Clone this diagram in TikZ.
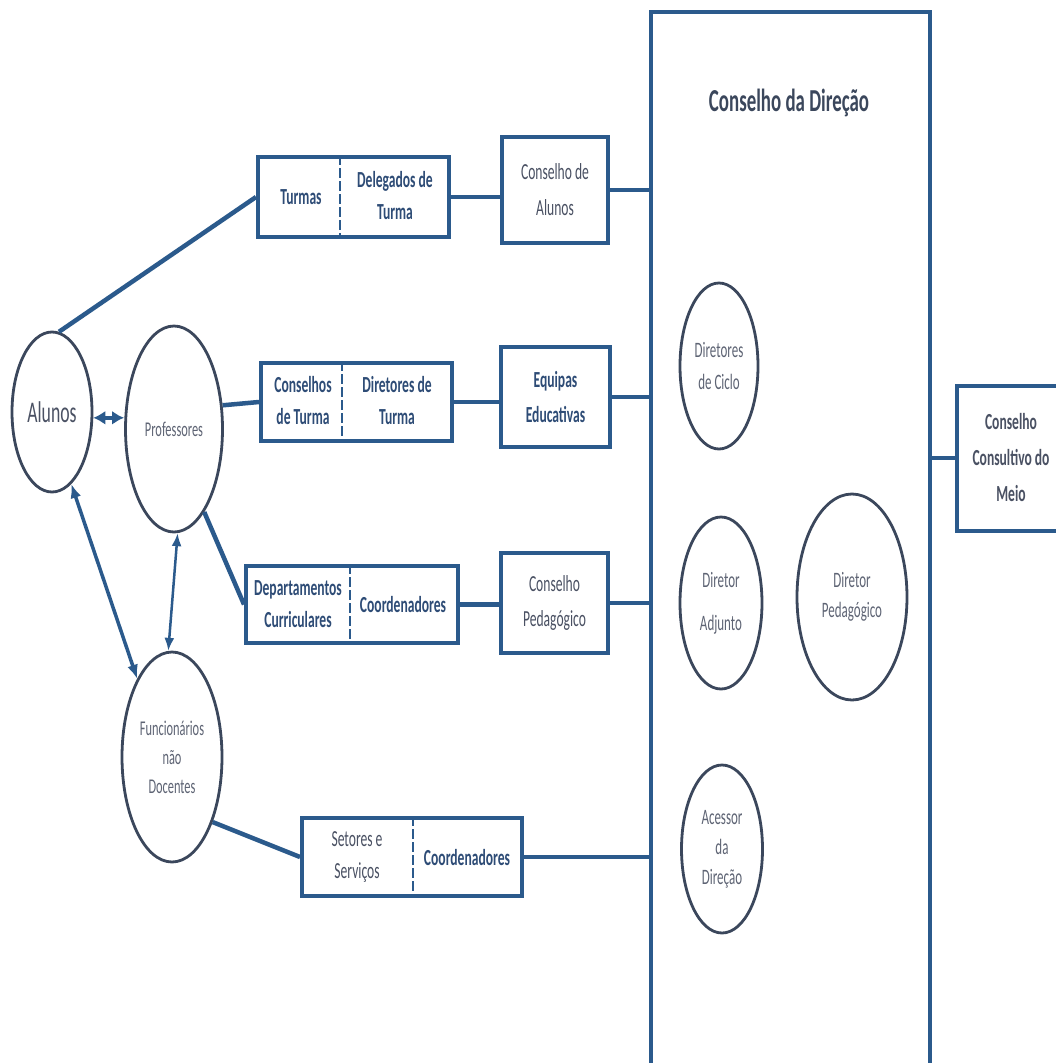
\documentclass[tikz,border=0pt]{standalone}
\usepackage{fontspec}
\setmainfont{Carlito}[FakeStretch=0.59]
\usetikzlibrary{shapes.geometric,arrows.meta}
\definecolor{lineblue}{HTML}{2B5A8C}
\definecolor{txtblue}{HTML}{2E4C76}
\definecolor{txtgray}{HTML}{4A5163}
\definecolor{circgray}{HTML}{3B475C}
\definecolor{softgray}{HTML}{5E6474}
\begin{document}
\begin{tikzpicture}[x=1pt,y=-1pt,
  boxn/.style={draw=lineblue,line width=4pt,rectangle,inner sep=0pt,align=center},
  oval/.style={draw=circgray,line width=2.8pt,ellipse,inner sep=0pt,align=center,text=softgray},
  conn/.style={draw=lineblue,line width=4.5pt},
  arr/.style={draw=lineblue,line width=3.5pt,{Latex[length=14pt,width=11pt]}-{Latex[length=14pt,width=11pt]}},
  thinarr/.style={draw=lineblue,line width=2.5pt,{Latex[length=13pt,width=10pt]}-{Latex[length=13pt,width=10pt]}},
  fatarr/.style={draw=lineblue,line width=4.5pt,{Latex[length=12pt,width=14pt]}-{Latex[length=12pt,width=14pt]}},
  divider/.style={draw=lineblue,line width=2pt,dash pattern=on 10pt off 3pt},
  lbl/.style={align=center,inner sep=0pt},
  bluebold/.style={text=txtblue,font=\bfseries\fontsize{23}{32}\selectfont},
  grayreg/.style={text=txtgray,font=\fontsize{23}{36}\selectfont},
]
\useasboundingbox (0,0) rectangle (1055,1063);
\fill[white] (0,0) rectangle (1055,1063);

% big council box
\node[boxn,minimum width=279pt,minimum height=1060pt] (cd) at (790.5,542) {};
\node[lbl,text=circgray,font=\bfseries\fontsize{32}{36}\selectfont] (title) at (789,103) {Conselho da Direção};

% consultive council
\node[boxn,minimum width=108pt,minimum height=145pt,text=txtgray,font=\bfseries\fontsize{23}{36}\selectfont] (ccm) at (1011,458) {Conselho\\Consultivo do\\Meio};

% split boxes
\node[boxn,minimum width=191pt,minimum height=80pt] (b1) at (353.5,197) {};
\node[boxn,minimum width=191pt,minimum height=78pt] (b2) at (356.5,402) {};
\node[boxn,minimum width=212pt,minimum height=77pt] (b3) at (352,604.5) {};
\node[boxn,minimum width=220pt,minimum height=78pt] (b4) at (412,857) {};

\coordinate (d1) at (340,0);
\coordinate (d2) at (342,0);
\coordinate (d3) at (350,0);
\coordinate (d4) at (413,0);
\draw[divider] (b1.north -| d1) -- (b1.south -| d1);
\draw[divider] (b2.north -| d2) -- (b2.south -| d2);
\draw[divider] (b3.north -| d3) -- (b3.south -| d3);
\draw[divider] (b4.north -| d4) -- (b4.south -| d4);

\node[lbl,bluebold] (t1a) at (301,197) {Turmas};
\node[lbl,bluebold] (t1b) at (395,196) {Delegados de\\Turma};
\node[lbl,bluebold] (t2a) at (303,401) {Conselhos\\de Turma};
\node[lbl,bluebold] (t2b) at (397,401) {Diretores de\\Turma};
\node[lbl,bluebold] (t3a) at (298,604) {Departamentos\\Curriculares};
\node[lbl,bluebold] (t3b) at (403,605) {Coordenadores};
\node[lbl,grayreg,font=\fontsize{23}{32}\selectfont] (t4a) at (357,857) {Setores e\\Serviços};
\node[lbl,bluebold] (t4b) at (467,858) {Coordenadores};

% council boxes
\node[boxn,minimum width=106pt,minimum height=106pt,grayreg] (c1) at (555,190) {Conselho de\\Alunos};
\node[boxn,minimum width=109pt,minimum height=100pt,bluebold,font=\bfseries\fontsize{23}{35}\selectfont] (c2) at (555.5,397) {Equipas\\Educativas};
\node[boxn,minimum width=107pt,minimum height=100pt,grayreg,font=\fontsize{23}{35}\selectfont] (c3) at (554.5,603) {Conselho\\Pedagógico};

% left ovals
\node[oval,minimum width=80pt,minimum height=160pt,text=txtgray,font=\fontsize{30}{34}\selectfont] (alunos) at (52,412) {Alunos};
\node[oval,minimum width=97pt,minimum height=206pt,font=\fontsize{21}{30}\selectfont] (prof) at (174,429) {Professores};
\node[oval,minimum width=100pt,minimum height=210pt,font=\fontsize{21}{29}\selectfont] (func) at (172,757) {Funcionários\\não\\Docentes};

% inner ovals
\node[oval,minimum width=78pt,minimum height=166pt,font=\fontsize{22}{32}\selectfont] (dc) at (719,366) {Diretores\\de Ciclo};
\node[oval,minimum width=82pt,minimum height=172pt,font=\fontsize{22}{43}\selectfont] (da) at (721,603) {Diretor\\Adjunto};
\node[oval,minimum width=110pt,minimum height=206pt,font=\fontsize{22}{30}\selectfont] (dp) at (852,597) {Diretor\\Pedagógico};
\node[oval,minimum width=81pt,minimum height=168pt,font=\fontsize{22}{30}\selectfont] (ad) at (722,849) {Acessor\\da\\Direção};

% connectors
\draw[conn] (b1.east) -- (c1.west |- b1.east);
\draw[conn] (c1.east) -- (c1.east -| cd.west);
\draw[conn] (b2.east) -- (c2.west |- b2.east);
\draw[conn] (c2.east) -- (c2.east -| cd.west);
\draw[conn] (b3.east) -- (c3.west |- b3.east);
\draw[conn] (c3.east) -- (c3.east -| cd.west);
\draw[conn] (b4.east) -- (b4.east -| cd.west);
\draw[conn] (cd.east |- ccm.west) -- (ccm.west);

\draw[conn] (alunos.85) -- (b1.west);
\draw[conn] (prof.26) -- (b2.west);
\draw[conn] (prof.-70) -- (b3.west);
\draw[conn] (func.-58) -- (b4.west);

\draw[fatarr] (alunos.-8) -- (prof.west |- alunos.-8);
\draw[arr] (alunos.-75) -- (func.114);
\draw[thinarr] (prof.-88) -- (func.92);
\end{tikzpicture}
\end{document}
